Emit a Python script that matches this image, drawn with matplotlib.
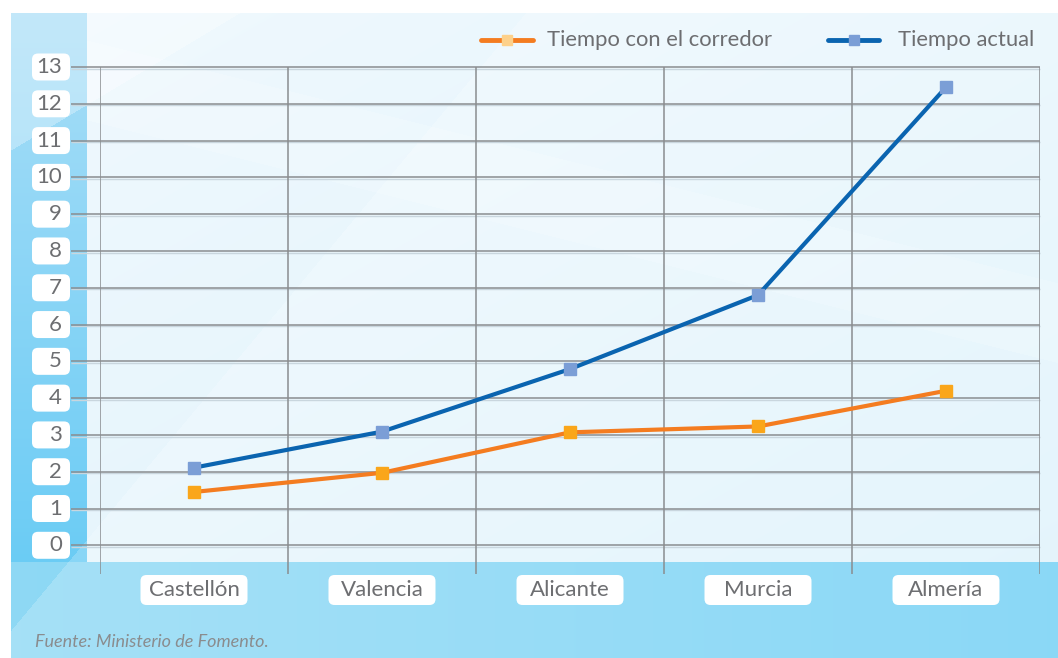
import numpy as np
import matplotlib
matplotlib.use("Agg")
import matplotlib.pyplot as plt
from matplotlib.patches import FancyBboxPatch
from matplotlib.lines import Line2D
from matplotlib.transforms import IdentityTransform

# ---- data ----
cities = ["Castellón", "Valencia", "Alicante", "Murcia", "Almería"]
tiempo_corredor = [1.45, 1.97, 3.07, 3.23, 4.2]
tiempo_actual = [2.11, 3.09, 4.79, 6.8, 12.45]
yticks = list(range(0, 14))
legend_labels = ["Tiempo con el corredor", "Tiempo actual"]
source = "Fuente: Ministerio de Fomento."

W, H = 1058, 658
FONT = "Lato"
TXT = "#6d6e71"
GRID = "#8a8d90"
BLUE, BLUE_MK = "#0a64b0", "#7b9ed6"
ORANGE, ORANGE_MK, ORANGE_LEG = "#f47c20", "#faa61a", "#fdd18b"

plt.rcParams["font.family"] = [FONT, "DejaVu Sans"]
fig = plt.figure(figsize=(W / 100, H / 100), dpi=100)

# ---- background (gradients painted as an image) ----
yy, xx = np.mgrid[0:H, 0:W].astype(float)
img = np.ones((H, W, 3))


def mix(c1, c2, t):
    t = np.clip(t, 0, 1)[..., None]
    return np.array(c1) * (1 - t) + np.array(c2) * t


outer = (xx >= 11) & (yy >= 13)
left = outer & (xx < 87) & (yy < 562)
bottom = outer & (yy >= 562)
panel = outer & (xx >= 87) & (yy < 562)
img[left] = mix((0.66, 0.87, 0.97), (0.42, 0.80, 0.96), (yy[left] - 13) / 549)
img[bottom] = mix((0.56, 0.85, 0.96), (0.43, 0.81, 0.96), (xx[bottom] - 11) / 1047)
img[panel] = mix((0.94, 0.975, 0.995), (0.87, 0.95, 0.985),
                 ((xx[panel] - 87) / 971 + (yy[panel] - 13) / 549) / 2)
# glossy diagonals
g1 = outer & (yy < 150 - 0.6 * (xx - 11))
img[g1] = img[g1] * 0.7 + 0.3
g2 = outer & (yy > 630 - 1.2 * (xx - 11))
img[g2] = img[g2] * 0.8 + 0.2
g3 = panel & (yy < 120 + 0.25 * (xx - 87)) & (yy > 40 + 0.25 * (xx - 87))
img[g3] = img[g3] * 0.85 + 0.15

bg = fig.add_axes([0, 0, 1, 1], zorder=-5)
bg.imshow(img, extent=(0, W, H, 0), aspect="auto", interpolation="bilinear")
bg.set_xlim(0, W); bg.set_ylim(H, 0)
bg.axis("off")

# ---- plot axes ----
ax_l, ax_r, ax_t, ax_b = 100, 1040, 67, 574
ax = fig.add_axes([ax_l / W, 1 - ax_b / H, (ax_r - ax_l) / W, (ax_b - ax_t) / H])
ax.set_xlim(0, 5)
ax.set_ylim(-0.78, 13)
ax.axis("off")

ax.hlines([v - 0.045 for v in yticks], -0.155, 5, colors="#c9d6de", lw=1.0, clip_on=False, zorder=1)
ax.hlines(yticks, -0.155, 5, colors=GRID, lw=1.1, clip_on=False, zorder=2)
ax.vlines(range(len(cities) + 1), -0.78, 13, colors=GRID, lw=1.1, zorder=2)

x = np.arange(len(cities)) + 0.5
ax.plot(x, tiempo_corredor, color=ORANGE, lw=3, zorder=4, solid_capstyle="round")
ax.plot(x, tiempo_corredor, ls="none", marker="s", ms=9, color=ORANGE_MK, zorder=5)
ax.plot(x, tiempo_actual, color=BLUE, lw=3, zorder=4, solid_capstyle="round")
ax.plot(x, tiempo_actual, ls="none", marker="s", ms=9, color=BLUE_MK, zorder=5)

ident = IdentityTransform()

# y tick labels in white rounded boxes
for v in yticks:
    _, yd = ax.transData.transform((0, v))
    box = FancyBboxPatch((32, yd - 13.5), 38, 27, boxstyle="round,pad=0,rounding_size=6",
                         transform=ident, fc="white", ec="none", zorder=3)
    fig.patches.append(box)
    fig.text(62 / W, yd / H, str(v), ha="right", va="center", fontsize=16,
             color=TXT, zorder=6)

# category labels in white rounded boxes
for xi, name in zip(x, cities):
    xd, _ = ax.transData.transform((xi, 0))
    yd = H - 590
    box = FancyBboxPatch((xd - 53.5, yd - 15), 107, 30, boxstyle="round,pad=0,rounding_size=6",
                         transform=ident, fc="white", ec="none", zorder=3)
    fig.patches.append(box)
    fig.text(xd / W, yd / H, name, ha="center", va="center", fontsize=16,
             color=TXT, zorder=6)

# legend drawn by hand at the top
leg = [(481, 533, ORANGE, ORANGE_LEG, 547), (828, 879, BLUE, BLUE_MK, 898)]
for (x0, x1, c, mc, tx), label in zip(leg, legend_labels):
    yl = 1 - 40 / H
    fig.add_artist(Line2D([x0 / W, x1 / W], [yl, yl], color=c, lw=3.5,
                          solid_capstyle="round", transform=fig.transFigure))
    fig.add_artist(Line2D([(x0 + x1) / 2 / W], [yl], marker="s", ms=7.5, color=mc,
                          ls="none", transform=fig.transFigure))
    fig.text(tx / W, yl, label, ha="left", va="center", fontsize=15.8, color=TXT)

fig.text(35 / W, 1 - 642 / H, source, ha="left", va="center", fontsize=13,
         style="italic", color="#8a8c8e")

fig.savefig("out.png", dpi=100)
